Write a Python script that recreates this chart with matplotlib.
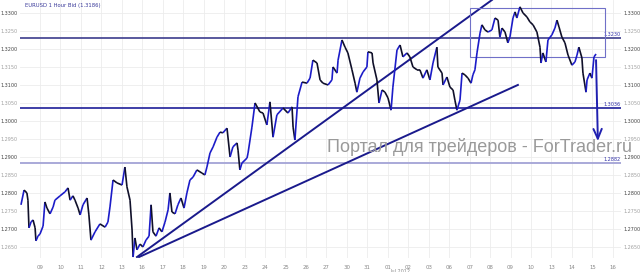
import numpy as np
import matplotlib
matplotlib.use("Agg")
import matplotlib.pyplot as plt
from matplotlib.collections import LineCollection
from matplotlib.patches import Rectangle

# =============================================================================
# Data (x = trading day index, 0 = "09", price = EURUSD bid)
# =============================================================================

day_labels = ["09", "10", "11", "12", "13", "16", "17", "18", "19", "20",
              "23", "24", "25", "26", "27", "30", "31", "01", "02", "03",
              "06", "07", "08", "09", "10", "13", "14", "15", "16"]

days = [
    -0.93, -0.78, -0.64, -0.59, -0.54, -0.44, -0.34, -0.24, -0.20, -0.10,
    0.00, 0.15, 0.24, 0.34, 0.49, 0.64, 0.73, 0.98, 1.22, 1.37,
    1.47, 1.61, 1.71, 1.86, 1.96, 2.10, 2.30, 2.39, 2.49, 2.69,
    2.93, 3.18, 3.32, 3.42, 3.57, 3.76, 4.01, 4.15, 4.25, 4.40,
    4.50, 4.55,
    4.64, 4.74, 4.89, 5.03, 5.18, 5.33, 5.43, 5.52, 5.67, 5.82,
    5.96, 6.11, 6.26, 6.35, 6.45, 6.60, 6.74, 6.89, 7.04, 7.18,
    7.33, 7.48, 7.67, 7.92, 8.06, 8.16, 8.31, 8.46, 8.65, 8.80,
    8.94, 9.14, 9.29, 9.43, 9.63, 9.68, 9.77, 9.87, 10.12, 10.17,
    10.36, 10.51, 10.75, 10.90, 11.09, 11.24, 11.39, 11.58, 11.88, 12.12,
    12.32, 12.37, 12.46, 12.61, 12.81, 13.05, 13.20, 13.34, 13.54, 13.69,
    13.83, 14.08, 14.27, 14.32, 14.52, 14.57, 14.76, 14.91, 15.05, 15.25,
    15.40, 15.49, 15.64, 15.79, 15.98, 16.03, 16.23, 16.28, 16.47, 16.57,
    16.72, 16.86, 17.01, 17.16, 17.25, 17.45, 17.60, 17.74, 17.94, 18.08,
    18.23, 18.43, 18.57, 18.72, 18.91, 19.06, 19.21, 19.40, 19.45, 19.65,
    19.70, 19.89, 20.04, 20.19, 20.28, 20.38, 20.53, 20.63, 20.77, 20.92,
    21.07, 21.16, 21.26, 21.36, 21.51, 21.60, 21.75, 21.90, 22.09, 22.24,
    22.39, 22.48, 22.58, 22.73, 22.87, 22.97, 23.12, 23.22, 23.31, 23.46,
    23.61, 23.80, 23.95, 24.10, 24.29, 24.44, 24.49, 24.58, 24.73, 24.83,
    25.02, 25.17, 25.27, 25.37, 25.51, 25.66, 25.81, 26.00, 26.15, 26.25,
    26.34, 26.49, 26.54, 26.69, 26.74, 26.88, 26.98, 27.08, 27.18,
]

price = [
    1.2767, 1.2808, 1.2800, 1.2780, 1.2703, 1.2719, 1.2725, 1.2703, 1.2667, 1.2680,
    1.2686, 1.2708, 1.2775, 1.2758, 1.2742, 1.2761, 1.2780, 1.2792, 1.2803, 1.2814,
    1.2780, 1.2792, 1.2780, 1.2758, 1.2739, 1.2767, 1.2786, 1.2739, 1.2669, 1.2692,
    1.2714, 1.2705, 1.2719, 1.2761, 1.2836, 1.2828, 1.2822, 1.2872, 1.2817, 1.2780,
    1.2697, 1.2622,
    1.2675, 1.2642, 1.2658, 1.2650, 1.2669, 1.2680, 1.2767, 1.2692, 1.2680, 1.2703,
    1.2692, 1.2719, 1.2753, 1.2800, 1.2747, 1.2742, 1.2767, 1.2786, 1.2758, 1.2800,
    1.2836, 1.2844, 1.2864, 1.2855, 1.2850, 1.2872, 1.2911, 1.2928, 1.2955, 1.2969,
    1.2967, 1.2980, 1.2900, 1.2928, 1.2939, 1.2919, 1.2864, 1.2883, 1.2897, 1.2911,
    1.2983, 1.3050, 1.3025, 1.3022, 1.2989, 1.3053, 1.2955, 1.3017, 1.3036, 1.3022,
    1.3039, 1.2983, 1.2947, 1.3067, 1.3108, 1.3105, 1.3119, 1.3169, 1.3161, 1.3114,
    1.3105, 1.3100, 1.3114, 1.3150, 1.3133, 1.3169, 1.3225, 1.3205, 1.3189, 1.3142,
    1.3105, 1.3080, 1.3119, 1.3136, 1.3150, 1.3192, 1.3189, 1.3161, 1.3114, 1.3050,
    1.3086, 1.3080, 1.3064, 1.3030, 1.3094, 1.3197, 1.3211, 1.3178, 1.3189, 1.3178,
    1.3150, 1.3142, 1.3142, 1.3119, 1.3142, 1.3114, 1.3161, 1.3205, 1.3150, 1.3133,
    1.3100, 1.3122, 1.3094, 1.3086, 1.3058, 1.3030, 1.3058, 1.3133, 1.3128, 1.3119,
    1.3105, 1.3128, 1.3142, 1.3189, 1.3244, 1.3267, 1.3253, 1.3247, 1.3253, 1.3286,
    1.3280, 1.3233, 1.3258, 1.3247, 1.3217, 1.3233, 1.3286, 1.3303, 1.3286, 1.3317,
    1.3300, 1.3289, 1.3275, 1.3267, 1.3247, 1.3205, 1.3161, 1.3189, 1.3164, 1.3225,
    1.3239, 1.3258, 1.3280, 1.3261, 1.3233, 1.3217, 1.3183, 1.3155, 1.3164, 1.3183,
    1.3205, 1.3175, 1.3133, 1.3080, 1.3114, 1.3133, 1.3119, 1.3178, 1.3186,
]

# support / resistance levels
levels = [1.3230, 1.3036, 1.2882]
level_colors = ["#4b4b95", "#2f2fa0", "#a3a3d6"]

# trend lines (days, prices)
trend1 = ([4.74, 22.09], [1.2622, 1.3336])
trend2 = ([4.84, 23.36], [1.2622, 1.3100])

# range box and forecast arrow
box_days = (21.02, 27.62)
box_prices = (1.3178, 1.3314)
arrow_start = (27.18, 1.3169)
arrow_end = (27.27, 1.2944)

ytick_vals = np.arange(1.2650, 1.33001, 0.005)

# =============================================================================
# Figure
# =============================================================================

W, H = 642, 272
fig = plt.figure(figsize=(W / 100, H / 100), dpi=100)
ax = fig.add_axes([20 / W, 14 / H, 601 / W, 258 / H])
ax.set_xlim(-0.978, 28.40)
ax.set_ylim(1.26193, 1.3336)

for s in ax.spines.values():
    s.set_visible(False)

# grid + tick labels
ax.set_xticks(np.arange(len(day_labels)))
ax.set_xticklabels(day_labels)
ax.set_yticks(ytick_vals)
ax.set_yticklabels(["%.4f" % v for v in ytick_vals])
ax.grid(True, color="#ececec", lw=0.6)
ax.set_axisbelow(True)
ax.tick_params(length=0, labelsize=3.5, colors="#888888",
               labelleft=True, labelright=True, pad=2)
ax.tick_params(axis="x", labelsize=3.9, pad=5)
for t in ax.yaxis.get_major_ticks():
    v = t.get_loc()
    c = "#444444" if round(v * 1000) % 10 == 0 else "#a0a0a0"
    t.label1.set_color(c)
    t.label2.set_color(c)

# horizontal levels with labels
for lv, col in zip(levels, level_colors):
    ax.axhline(lv, color=col, lw=1.3, zorder=2)
    ax.text(28.36, lv + 0.0003, "%.4f" % lv, color="#3333aa", fontsize=3.5,
            ha="right", va="bottom")

# price line, blue when rising, dark when falling
pts = np.column_stack([days, price])
segs = np.stack([pts[:-1], pts[1:]], axis=1)
cols = ["#1c1cc8" if b > a else "#10102a" for a, b in zip(price[:-1], price[1:])]
ax.add_collection(LineCollection(segs, colors=cols, lw=1.2, zorder=4))

# trend lines
ax.plot(trend1[0], trend1[1], color="#1a1a8c", lw=1.4, zorder=3)
ax.plot(trend2[0], trend2[1], color="#1a1a8c", lw=1.4, zorder=3)

# range box
ax.add_patch(Rectangle((box_days[0], box_prices[0]), box_days[1] - box_days[0],
                       box_prices[1] - box_prices[0], fill=False,
                       ec="#7070c8", lw=0.8, zorder=3))

# forecast arrow
ax.annotate("", xy=arrow_end, xytext=arrow_start,
            arrowprops=dict(arrowstyle="->,head_length=0.7,head_width=0.3",
                            color="#2020b0", lw=1.4,
                            shrinkA=0, shrinkB=0), zorder=5)

# title, month label, watermark
fig.text(25 / W, 1 - 5 / H, "EURUSD 1 Hour Bid (1.3186)", fontsize=3.8,
         color="#3a3a9a", va="center", ha="left")
fig.text(390 / W, 0.5 / H, "Jul 2012", fontsize=3.5, color="#888888",
         ha="left", va="center")
fig.text(327 / W, 1 - 147 / H, "Портал для трейдеров - ForTrader.ru",
         fontsize=13, color="#9a9a9a", family="Liberation Sans",
         ha="left", va="center", zorder=10)

fig.savefig("out.png", dpi=100, facecolor="white")
